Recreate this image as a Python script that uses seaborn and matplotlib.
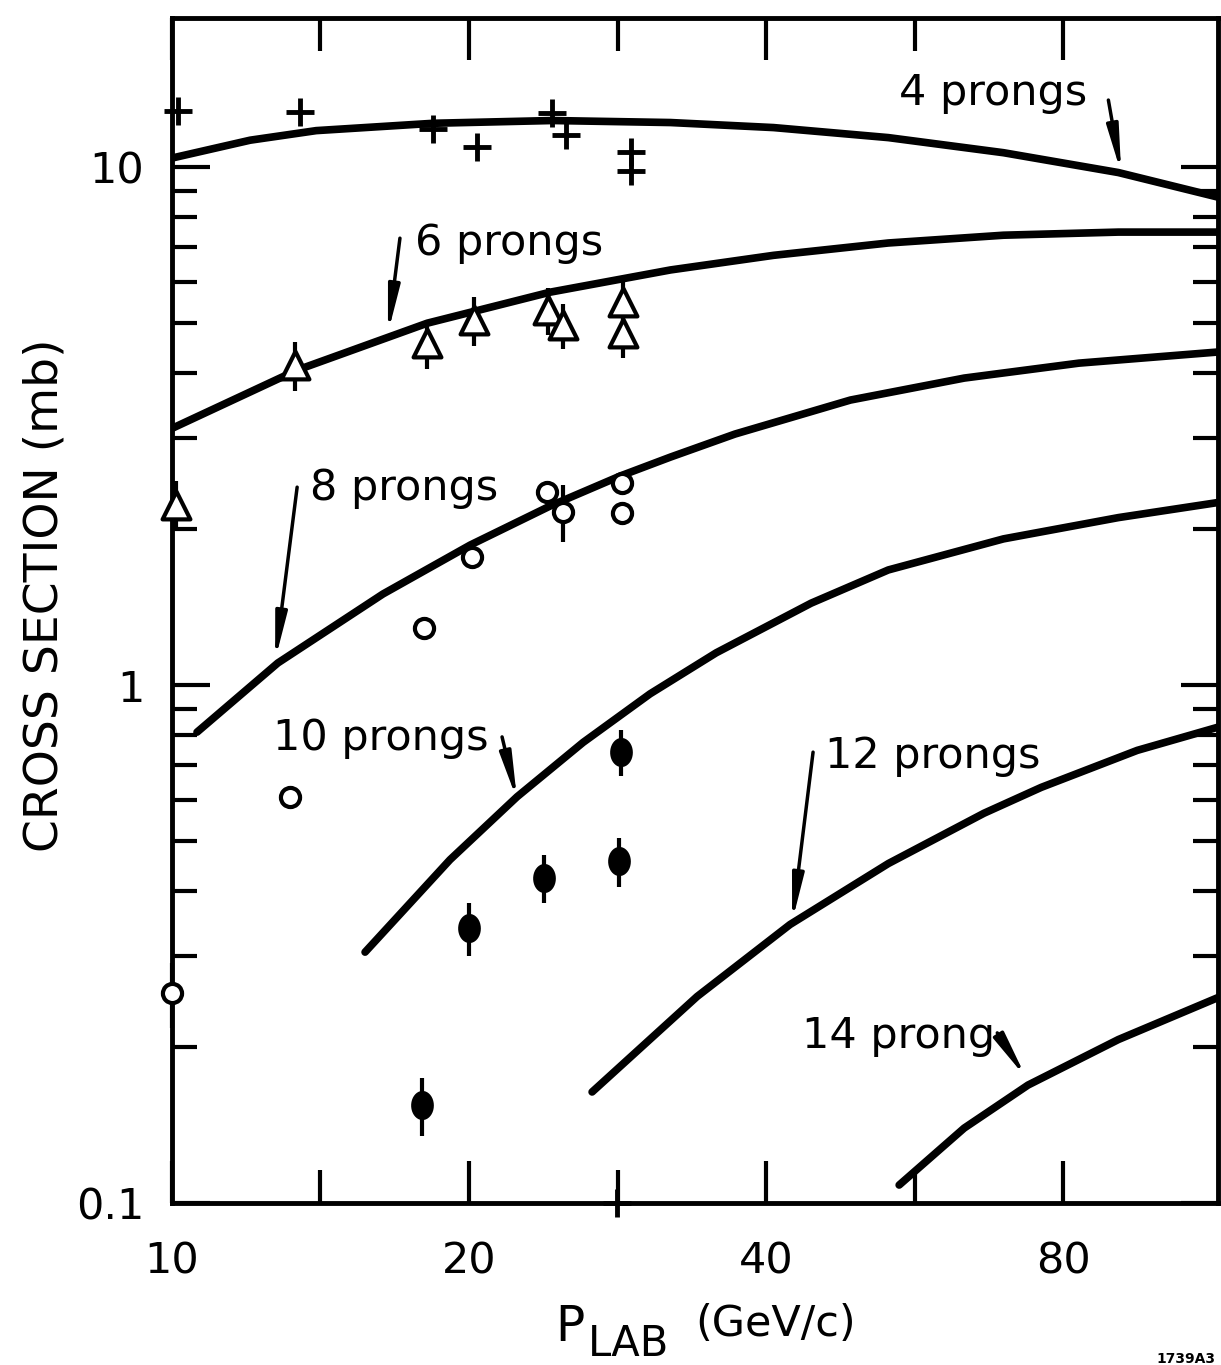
#!/usr/bin/env python3
"""Topological cross sections vs beam momentum (log-log), redrawn."""
import numpy as np
import matplotlib
matplotlib.use("Agg")
import matplotlib.pyplot as plt
import seaborn as sns
from matplotlib.ticker import LogLocator, NullFormatter

# fitted curves: P_lab (GeV/c) -> cross section (mb)
c4_x = [10.0, 12.0, 14.0, 18.4, 24.3, 32.0, 40.7, 53.2, 69.6, 91.0, 114.8]
c4_y = [10.41, 11.27, 11.76, 12.15, 12.30, 12.19, 11.92, 11.40, 10.66, 9.76, 8.75]

c6_x = [10.0, 13.39, 18.14, 24.17, 32.0, 40.7, 53.2, 69.6, 91.0, 114.8]
c6_y = [3.13, 4.056, 4.996, 5.735, 6.33, 6.755, 7.136, 7.387, 7.49, 7.49]

c8_x = [10.6, 12.8, 16.36, 20.05, 24.16, 28.45, 32.0, 37.2, 48.7, 63.5, 83.0, 114.8]
c8_y = [0.811, 1.103, 1.499, 1.863, 2.216, 2.532, 2.755, 3.052, 3.550, 3.914, 4.183, 4.395]

c10_x = [15.69, 19.13, 22.37, 26.1, 30.51, 35.6, 44.43, 53.2, 69.6, 91.0, 114.8]
c10_y = [0.305, 0.46, 0.6085, 0.775, 0.9616, 1.154, 1.439, 1.668, 1.915, 2.105, 2.251]

c12_x = [26.65, 34.05, 42.3, 53.2, 66.5, 76.0, 95.1, 114.8]
c12_y = [0.1638, 0.2504, 0.3449, 0.4522, 0.5655, 0.6344, 0.7479, 0.8291]

c14_x = [54.56, 63.5, 73.7, 91.0, 114.8]
c14_y = [0.1083, 0.1395, 0.1689, 0.2068, 0.2492]

# measured points
p4_x = [10.14, 13.48, 18.39, 20.38, 24.28, 25.08, 29.2, 29.2, 28.25]
p4_y = [12.83, 12.77, 11.84, 10.93, 12.71, 11.53, 10.69, 9.82, 0.1]

p6_x = [10.1, 13.33, 18.13, 20.23, 24.05, 24.9, 28.65, 28.65]
p6_y = [2.23, 4.15, 4.57, 5.07, 5.30, 4.95, 5.49, 4.78]
p6_err = [0.25, 0.45, 0.5, 0.55, 0.55, 0.5, 0.55, 0.5]

p8_x = [10.0, 13.17, 18.0, 20.14, 24.0, 24.9, 28.6, 28.6]
p8_y = [0.254, 0.608, 1.288, 1.767, 2.36, 2.16, 2.455, 2.15]
p8_err = [0.036, 0.0, 0.0, 0.0, 0.0, 0.27, 0.0, 0.0]

p10_x = [17.9, 20.0, 23.8, 28.4, 28.5]
p10_y = [0.1546, 0.3396, 0.424, 0.457, 0.742]
p10_err = [0.02, 0.04, 0.045, 0.05, 0.075]

curve_labels = ["4 prongs", "6 prongs", "8 prongs", "10 prongs", "12 prongs", "14 prong"]


def main():
    sns.set_theme(style="ticks")
    plt.rcParams["font.family"] = ["DejaVu Sans"]
    for key in ["text.color", "axes.labelcolor", "xtick.color", "ytick.color",
                "axes.edgecolor"]:
        plt.rcParams[key] = "black"

    fig = plt.figure(figsize=(12.21, 13.65), dpi=100)
    ax = fig.add_axes([0.1409, 0.1187, 0.8566, 0.8681])
    ax.set_xscale("log")
    ax.set_yscale("log")

    for cx, cy in [(c4_x, c4_y), (c6_x, c6_y), (c8_x, c8_y),
                   (c10_x, c10_y), (c12_x, c12_y), (c14_x, c14_y)]:
        sns.lineplot(x=cx, y=cy, ax=ax, color="black", lw=5.5,
                     solid_capstyle="round", solid_joinstyle="round",
                     estimator=None, zorder=2)

    # error bars under the symbols
    ax.errorbar(p6_x, p6_y, yerr=p6_err, fmt="none", ecolor="black",
                elinewidth=3, capsize=0, clip_on=False, zorder=3)
    bars8 = [i for i, e in enumerate(p8_err) if e > 0]
    ax.errorbar([p8_x[i] for i in bars8], [p8_y[i] for i in bars8],
                yerr=[p8_err[i] for i in bars8], fmt="none", ecolor="black",
                elinewidth=3, capsize=0, clip_on=False, zorder=3)
    ax.errorbar(p10_x, p10_y, yerr=p10_err, fmt="none", ecolor="black",
                elinewidth=3, capsize=0, clip_on=False, zorder=3)

    sns.scatterplot(x=p4_x, y=p4_y, ax=ax, marker="+", s=420, color="black",
                    linewidth=3.5, clip_on=False, zorder=4)
    sns.scatterplot(x=p6_x, y=p6_y, ax=ax, marker="^", s=400, facecolor="white",
                    edgecolor="black", linewidth=3, clip_on=False, zorder=4)
    sns.scatterplot(x=p8_x, y=p8_y, ax=ax, marker="o", s=190, facecolor="white",
                    edgecolor="black", linewidth=3, clip_on=False, zorder=4)
    t = np.linspace(0, 2 * np.pi, 40)
    ellipse = list(zip(0.78 * np.cos(t), np.sin(t)))
    sns.scatterplot(x=p10_x, y=p10_y, ax=ax, marker=ellipse, s=440,
                    color="black", edgecolor="black", linewidth=0,
                    clip_on=False, zorder=4)

    # curve labels with pointer arrows (text at left/baseline; tail -> head)
    labels = [
        ((54.6, 13.18), (88.9, 13.47), (91.6, 9.74)),
        ((17.63, 6.76), (17.02, 7.29), (16.55, 4.78)),
        ((13.8, 2.276), (13.39, 2.41), (12.72, 1.117)),
        ((12.66, 0.749), (21.6, 0.794), (22.37, 0.600)),
        ((45.9, 0.6915), (44.63, 0.742), (42.5, 0.349)),
        ((43.5, 0.199), (68.6, 0.213), (73.4, 0.1743)),
    ]
    for name, (pos, tail, head) in zip(curve_labels, labels):
        ax.text(pos[0], pos[1], name, fontsize=31, ha="left", va="baseline")
        ax.annotate("", xy=head, xytext=tail,
                    arrowprops=dict(arrowstyle="-|>,head_length=1.35,head_width=0.17",
                                    color="black", lw=2.5, mutation_scale=20,
                                    shrinkA=0, shrinkB=0))

    ax.set_xlim(10, 114.8)
    ax.set_ylim(0.1, 19.4)
    ax.set_xticks([10, 20, 40, 80], labels=["10", "20", "40", "80"])
    ax.set_xticks([14.14, 28.28, 56.57], minor=True)
    ax.xaxis.set_minor_formatter(NullFormatter())
    ax.set_yticks([0.1, 1, 10], labels=["0.1", "1", "10"])
    ax.yaxis.set_minor_locator(LogLocator(base=10, subs=range(2, 10)))
    ax.yaxis.set_minor_formatter(NullFormatter())

    ax.tick_params(which="both", direction="in", top=True, right=True,
                   width=3, color="black", labelcolor="black")
    ax.tick_params(axis="y", which="major", length=27, pad=20, labelsize=31)
    ax.tick_params(axis="y", which="minor", length=18)
    ax.tick_params(axis="x", which="major", length=30, pad=27, labelsize=31)
    ax.tick_params(axis="x", which="minor", length=24)
    for sp in ax.spines.values():
        sp.set_visible(True)
        sp.set_linewidth(3.5)
        sp.set_color("black")

    fig.text(45 / 1221, 1 - 595 / 1365, "CROSS SECTION (mb)", rotation=90,
             fontsize=34, ha="center", va="center")
    fig.text(555 / 1221, 1 - 1341 / 1365, "P", fontsize=35, ha="left", va="baseline")
    fig.text(588 / 1221, 1 - 1356 / 1365, "LAB", fontsize=30, ha="left", va="baseline")
    fig.text(695 / 1221, 1 - 1336 / 1365, "(GeV/c)", fontsize=31, ha="left", va="baseline")
    fig.text(1215 / 1221, 2 / 1365, "1739A3", fontsize=10, fontweight="bold",
             ha="right", va="baseline")

    fig.savefig("out.png", dpi=100, facecolor="white")
    plt.close(fig)


if __name__ == "__main__":
    main()
